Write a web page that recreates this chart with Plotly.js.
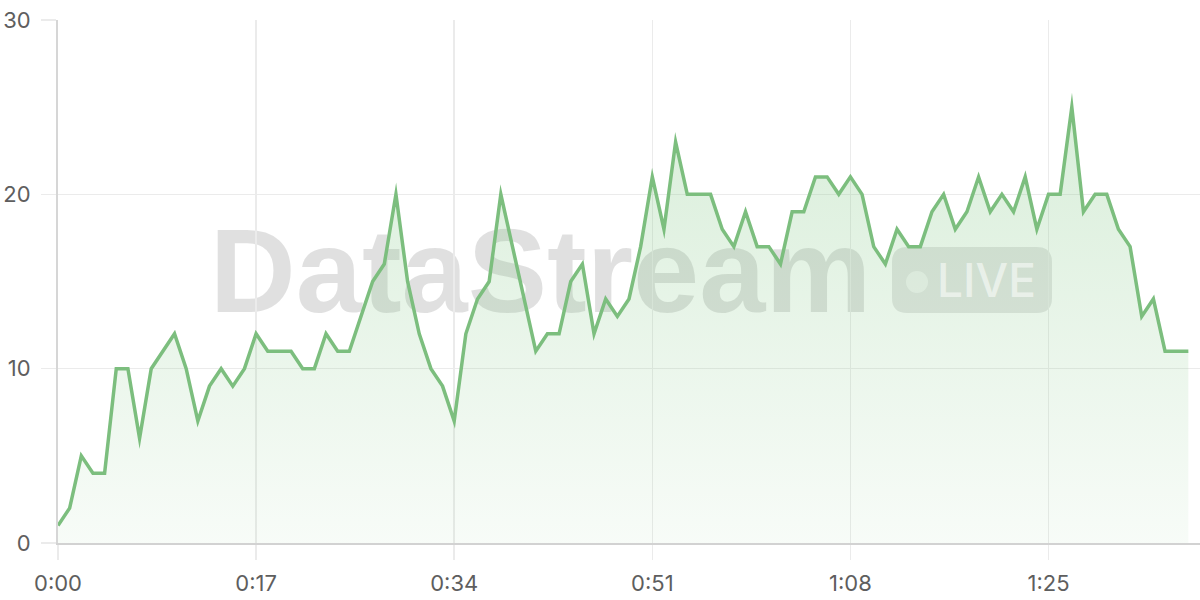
<!DOCTYPE html>
<html>
<head>
<meta charset="utf-8">
<script src="https://cdn.plot.ly/plotly-3.0.1.min.js"></script>
<style>
  html, body { margin: 0; padding: 0; background: #ffffff; }
  #chart { width: 1200px; height: 600px; }
  #chart path.js-line { stroke-linejoin: miter !important; stroke-miterlimit: 10 !important; }
</style>
</head>
<body>
<div id="chart"></div>
<script>
// Values per second (0:00 .. 1:37)
const values = [
  1, 2, 5, 4, 4, 10, 10, 6, 10, 11,
  12, 10, 7, 9, 10, 9, 10, 12, 11, 11,
  11, 10, 10, 12, 11, 11, 13, 15, 16, 20,
  15, 12, 10, 9, 7, 12, 14, 15, 20, 17,
  14, 11, 12, 12, 15, 16, 12, 14, 13, 14,
  17, 21, 18, 23, 20, 20, 20, 18, 17, 19,
  17, 17, 16, 19, 19, 21, 21, 20, 21, 20,
  17, 16, 18, 17, 17, 19, 20, 18, 19, 21,
  19, 20, 19, 21, 18, 20, 20, 25, 19, 20,
  20, 18, 17, 13, 14, 11, 11, 11
];
const seconds = values.map((_, i) => i);
const xTickVals = [0, 17, 34, 51, 68, 85];
const xTickText = ['0:00', '0:17', '0:34', '0:51', '1:08', '1:25'];
const yTickVals = [0, 10, 20, 30];
const yTickText = ['0', '10', '20', '30'];

const lineColor = 'rgb(124,190,126)';
const gridColor = '#ebebeb';
const labelFont = { family: 'Inter, "DejaVu Sans", sans-serif', size: 22, color: '#5e5e5e' };

const trace = {
  x: seconds,
  y: values,
  type: 'scatter',
  mode: 'lines',
  line: { color: lineColor, width: 3.5 },
  fill: 'tozeroy',
  fillgradient: {
    type: 'vertical',
    colorscale: [
      [0, 'rgba(129,199,132,0.06)'],
      [1, 'rgba(129,199,132,0.30)']
    ]
  },
  hoverinfo: 'skip'
};

const layout = {
  width: 1200,
  height: 600,
  margin: { l: 58, r: 0, t: 20, b: 57 },
  paper_bgcolor: '#ffffff',
  plot_bgcolor: '#ffffff',
  showlegend: false,
  xaxis: {
    range: [0, 98],
    tickvals: xTickVals,
    ticktext: xTickText,
    showgrid: true,
    gridcolor: gridColor,
    gridwidth: 1.5,
    zeroline: false,
    showline: true,
    linecolor: '#d2d2d2',
    linewidth: 2,
    ticks: 'outside',
    ticklen: 15,
    tickwidth: 1.5,
    tickcolor: gridColor,
    tickfont: labelFont,
    ticklabelstandoff: 5,
    fixedrange: true
  },
  yaxis: {
    range: [0, 30],
    tickvals: yTickVals,
    ticktext: yTickText,
    showgrid: true,
    gridcolor: gridColor,
    gridwidth: 1.5,
    zeroline: false,
    showline: true,
    linecolor: '#d6d6d6',
    linewidth: 2,
    ticks: 'outside',
    ticklen: 15,
    tickwidth: 1.5,
    tickcolor: gridColor,
    tickfont: labelFont,
    ticklabelstandoff: 6,
    fixedrange: true
  },
  shapes: [
    {
      type: 'rect', xref: 'paper', yref: 'paper', layer: 'between',
      x0: 0.30, x1: 0.545, y0: 0.472, y1: 0.612,
      line: { width: 0 }, fillcolor: 'rgba(0,0,0,0)',
      label: {
        text: 'DataStream',
        textposition: 'middle center',
        font: { family: '"Liberation Sans", Arial, sans-serif', size: 119, weight: 700, color: 'rgba(0,0,0,0.12)' }
      }
    },
    {
      type: 'path', xref: 'paper', yref: 'paper', layer: 'between',
      xsizemode: 'pixel', ysizemode: 'pixel',
      xanchor: (892 - 58) / 1142, yanchor: (543 - 313) / 523,
      path: 'M 15,0 L 145,0 Q 160,0 160,15 L 160,51 Q 160,66 145,66 L 15,66 Q 0,66 0,51 L 0,15 Q 0,0 15,0 Z',
      line: { width: 0 }, fillcolor: 'rgba(0,0,0,0.10)'
    },
    {
      type: 'circle', xref: 'paper', yref: 'paper', layer: 'between',
      xsizemode: 'pixel', ysizemode: 'pixel',
      xanchor: (917 - 58) / 1142, yanchor: (543 - 282) / 523,
      x0: -11, x1: 11, y0: -11, y1: 11,
      line: { width: 0 }, fillcolor: 'rgba(255,255,255,0.55)'
    }
  ],
  annotations: [
    {
      xref: 'paper', yref: 'paper',
      x: (986 - 58) / 1142, y: (543 - 280) / 523,
      xanchor: 'center', yanchor: 'middle',
      text: 'LIVE', showarrow: false,
      font: { family: 'Inter, "Liberation Sans", sans-serif', size: 46, weight: 500, color: 'rgba(255,255,255,0.55)' }
    }
  ]
};

Plotly.newPlot('chart', [trace], layout, { displayModeBar: false, staticPlot: true });
</script>
</body>
</html>
